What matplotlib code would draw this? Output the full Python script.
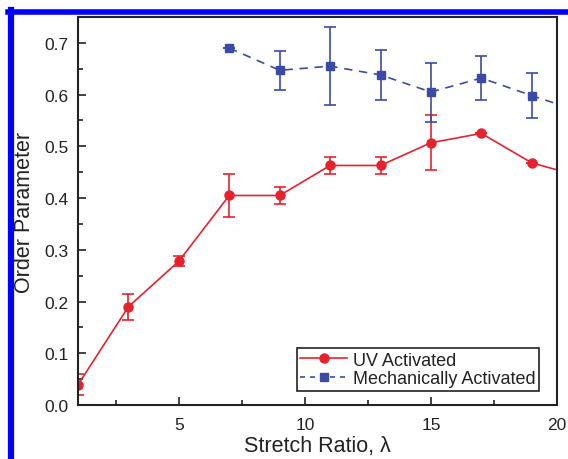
import matplotlib
matplotlib.use("Agg")
import matplotlib.pyplot as plt
from matplotlib.ticker import MultipleLocator
from matplotlib.lines import Line2D

plt.rcParams['font.family'] = ['Liberation Sans', 'DejaVu Sans']

uv_x = [1, 3, 5, 7, 9, 11, 13, 15, 17, 19, 21]
uv_y = [0.039, 0.19, 0.278, 0.405, 0.405, 0.463, 0.463, 0.507, 0.525, 0.468, 0.441]
uv_err = [0.02, 0.025, 0.01, 0.042, 0.017, 0.017, 0.017, 0.053, 0.0, 0.0, 0.0]

mech_x = [7, 9, 11, 13, 15, 17, 19, 21]
mech_y = [0.690, 0.647, 0.655, 0.638, 0.605, 0.632, 0.598, 0.566]
mech_err = [0.0, 0.038, 0.075, 0.048, 0.057, 0.042, 0.043, 0.0]

red = '#e8222c'
blue = '#3b4aa6'

fig = plt.figure(figsize=(5.68, 4.6), dpi=100)
ax = fig.add_axes([78/568, 1-406/460, (557-78)/568, (406-18)/460])

ax.errorbar(uv_x, uv_y, yerr=uv_err, color=red, marker='o', ms=6.5, lw=1.2,
            capsize=4, elinewidth=1.2, capthick=1.2, label='UV Activated', clip_on=True)
ax.errorbar(mech_x, mech_y, yerr=mech_err, color=blue, marker='s', ms=5.5, lw=1.2,
            ls=(0, (5, 4)), capsize=4, elinewidth=1.2, capthick=1.2,
            label='Mechanically Activated')

ax.set_xlim(1, 20)
ax.set_ylim(0, 0.75)
ax.xaxis.set_major_locator(MultipleLocator(5))
ax.xaxis.set_minor_locator(MultipleLocator(2.5))
ax.yaxis.set_major_locator(MultipleLocator(0.1))
ax.yaxis.set_minor_locator(MultipleLocator(0.05))
ax.set_xticks([5, 10, 15, 20])
ax.tick_params(which='both', direction='in', labelsize=12.5, color='#222222',
               labelcolor='#222222')
ax.tick_params(which='major', length=6, width=1.2)
ax.tick_params(which='minor', length=3.5, width=1.2)
ax.tick_params(axis='x', pad=8.5)
ax.tick_params(axis='y', pad=6.5)
for s in ax.spines.values():
    s.set_linewidth(1.5)
    s.set_color('#222222')
ax.set_xlabel('Stretch Ratio, \u03bb', fontsize=15.5, labelpad=2, color='#222222')
ax.set_ylabel('Order Parameter', fontsize=15.5, labelpad=7, color='#222222')

handles = [Line2D([], [], color=red, marker='o', ms=6.5, lw=1.2),
           Line2D([], [], color=blue, marker='s', ms=5.5, lw=1.2, ls=(0, (3, 3)))]
leg = ax.legend(handles, ['UV Activated', 'Mechanically Activated'], loc='lower right',
                bbox_to_anchor=(1-(557-539)/479, (406-392)/388), fontsize=13,
                fancybox=False, edgecolor='#222222', framealpha=1,
                borderpad=0.2, handlelength=2.6, labelspacing=0.1, handletextpad=0.3,
                borderaxespad=0)
leg.get_frame().set_linewidth(1.2)
for t in leg.get_texts():
    t.set_color('#222222')

# blue frame lines
fig.add_artist(Line2D([8/568, 1], [1-13/460, 1-13/460], transform=fig.transFigure,
                      color='#0000ff', lw=4))
fig.add_artist(Line2D([11/568, 11/568], [0, 1-11/460], transform=fig.transFigure,
                      color='#0000ff', lw=4.5))

fig.savefig('out.png', dpi=100)
